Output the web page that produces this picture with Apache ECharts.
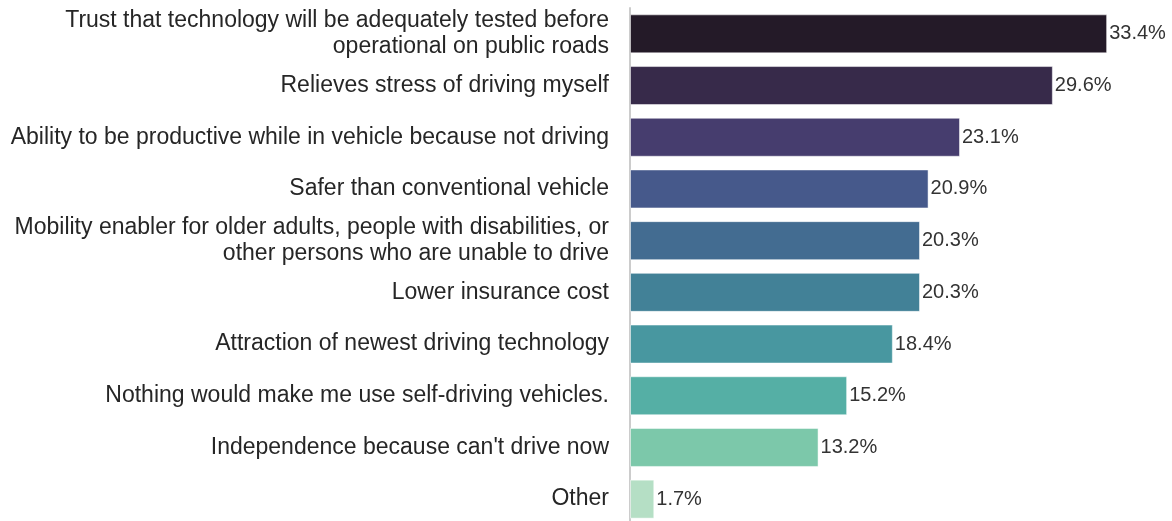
<!DOCTYPE html>
<html>
<head>
<meta charset="utf-8">
<script src="https://cdn.jsdelivr.net/npm/echarts@6/dist/echarts.min.js"></script>
<style>
  html, body { margin: 0; padding: 0; background: #fff; }
  #main { width: 1172px; height: 521px; }
</style>
</head>
<body>
<div id="main"></div>
<script>
// categories listed top to bottom
const categories = [
  'Trust that technology will be adequately tested before\noperational on public roads',
  'Relieves stress of driving myself',
  'Ability to be productive while in vehicle because not driving',
  'Safer than conventional vehicle',
  'Mobility enabler for older adults, people with disabilities, or\nother persons who are unable to drive',
  'Lower insurance cost',
  'Attraction of newest driving technology',
  'Nothing would make me use self-driving vehicles.',
  "Independence because can't drive now",
  'Other'
];
const values = [33.4, 29.6, 23.1, 20.9, 20.3, 20.3, 18.4, 15.2, 13.2, 1.7];
const barColors = [
  '#241a28', '#372a4a', '#463d6e', '#46598b', '#436c91',
  '#428197', '#4897a0', '#55afa5', '#7cc8aa', '#b5dfc5'
];

const chart = echarts.init(document.getElementById('main'));
chart.setOption({
  animation: false,
  textStyle: { fontFamily: 'Liberation Sans, Arial, sans-serif' },
  grid: { left: 630, top: 8, width: 500, height: 517, outerBoundsMode: 'none' },
  xAxis: {
    type: 'value',
    min: 0,
    max: 35,
    show: false
  },
  yAxis: {
    type: 'category',
    inverse: true,
    data: categories,
    axisLine: { show: true, lineStyle: { color: '#cccccc', width: 2 } },
    axisTick: { show: false },
    axisLabel: {
      color: '#262626',
      fontSize: 23,
      lineHeight: 26,
      margin: 21,
      align: 'right'
    }
  },
  series: [{
    type: 'bar',
    data: values.map((v, i) => ({ value: v, itemStyle: { color: barColors[i] } })),
    barWidth: 39,
    itemStyle: { borderColor: 'rgba(255,255,255,0.5)', borderWidth: 1 },
    label: {
      show: true,
      position: 'right',
      distance: 2,
      color: '#333333',
      fontSize: 20,
      formatter: p => p.value.toFixed(1) + '%'
    }
  }]
});
</script>
</body>
</html>
